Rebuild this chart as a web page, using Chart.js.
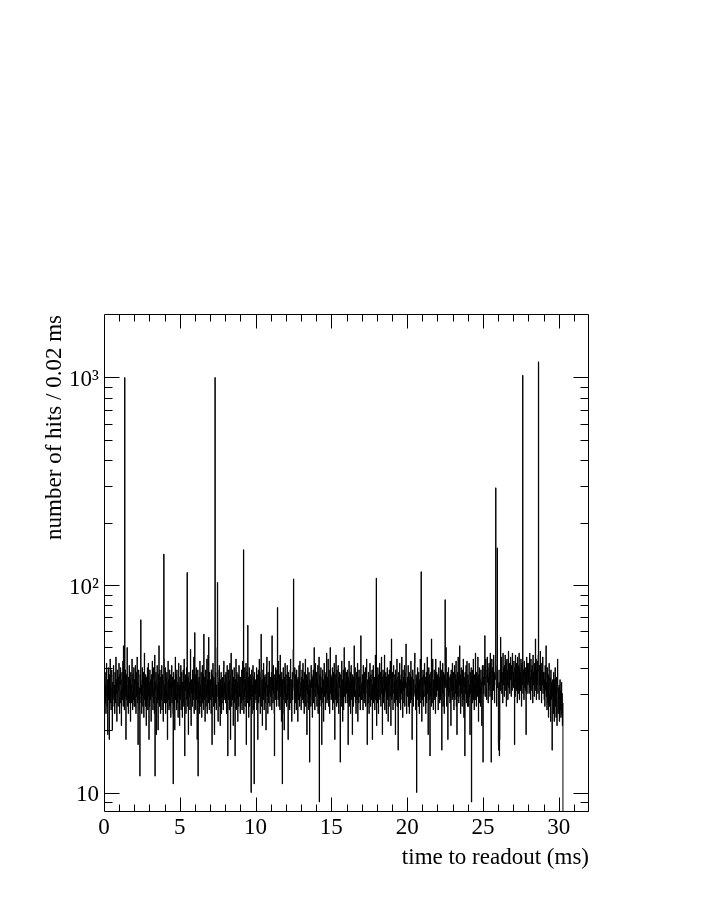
<!DOCTYPE html>
<html>
<head>
<meta charset="utf-8">
<script src="https://cdn.jsdelivr.net/npm/chart.js@4.4.1/dist/chart.umd.min.js"></script>
<style>
  html, body { margin: 0; padding: 0; background: #ffffff; }
  canvas { display: block; }
</style>
</head>
<body>
<canvas id="c" width="706" height="913"></canvas>
<script>
// ---------------- data ----------------
const binWidth = 0.02; // ms per bin
const xTitle = 'time to readout (ms)';
const yTitle = 'number of hits / 0.02 ms';
const xTickValues = [0, 5, 10, 15, 20, 25, 30];
const yTickValues = [10, 100, 1000];
const yTickLabels = ['10', '10²', '10³'];

// hits per 0.02 ms bin (5 ms per array, 50 bins per line)
const counts_00_05ms = [
  50,19,31,38,27,33,24,36,42,29, 26,35,19,31,40,28,33,18,37,30, 44,27,32,25,36,39,30,20,34,28, 37,41,29,26,33,24,38,31,27,45, 30,35,22,28,39,33,26,36,31,42,
  29,24,37,33,40,27,31,21,35,38, 28,32,43,26,51,30,36,25,34,29, 39,31,18,37,28,34,50,30,26,33, 24,36,32,41,27,29,35,22,38,31, 33,27,44,30,25,37,32,28,40,26,
  35,30,26,41,33,24,38,29,31,45, 27,34,17,36,39,28,32,25,12,37, 30,43,27,33,24,35,40,29,26,32, 38,23,31,47,28,34,26,37,30,21, 36,32,28,40,25,33,42,29,18,34,
  26,39,31,28,35,22,37,33,29,43, 30,25,36,40,27,32,24,46,12,34, 31,38,19,29,35,41,27,33,20,37, 28,51,34,26,39,30,24,36,32,28, 41,25,33,37,29,22,35,31,44,27,
  33,29,40,24,36,31,27,38,34,18, 30,43,28,35,25,32,39,26,37,31, 23,34,29,41,27,36,32,24,11,38, 31,26,35,20,33,45,28,37,30,25, 39,32,27,34,23,36,42,29,33,21
];
const counts_05_10ms = [
  36,28,33,41,25,31,38,30,23,34, 27,39,32,26,44,29,15,35,31,37, 24,33,40,28,48,30,26,36,19,32, 38,29,34,25,31,49,27,21,35,30, 33,26,39,31,28,36,45,24,32,59,
  30,37,25,33,40,28,35,18,31,39, 12,34,27,36,31,24,43,29,33,26, 38,30,23,35,41,27,32,37,25,58, 31,28,36,22,34,39,26,33,29,44, 24,35,30,46,27,56,32,25,38,31,
  28,35,31,24,39,33,17,37,29,42, 32,26,36,30,19,34,40,27,38,31, 25,33,29,50,30,36,22,34,28,39, 41,26,31,21,35,30,38,24,33,27, 36,29,32,25,40,43,28,34,30,37,
  33,27,38,30,24,36,41,29,15,34, 28,39,31,25,35,42,30,18,37,47, 32,26,34,39,28,31,21,36,29,40, 27,33,15,35,30,44,25,32,38,28, 34,22,37,30,26,41,33,29,36,24,
  31,36,27,34,39,25,30,43,28,33, 37,24,32,29,40,26,35,31,42,17, 34,38,27,31,64,29,36,23,33,40, 26,31,37,28,35,10,30,39,24,33, 29,41,32,25,36,11,38,27,34,30
];
const counts_10_15ms = [
  35,28,32,40,25,37,30,18,34,39, 27,33,44,29,36,24,31,38,58,30, 26,35,21,33,39,28,42,31,25,36, 30,37,27,34,20,32,41,45,29,33, 24,38,31,27,35,43,30,26,36,32,
  29,34,38,25,57,31,36,27,41,30, 33,24,15,37,32,28,40,30,35,26, 39,31,19,34,28,43,33,26,37,30, 25,46,32,29,36,22,38,31,11,35, 28,40,33,24,20,36,30,42,27,34,
  37,30,26,34,41,28,33,18,38,31, 29,36,25,32,39,44,27,35,30,22, 34,38,28,31,49,26,36,32,24,40, 30,27,37,33,25,39,29,35,31,22, 36,28,33,41,30,26,43,34,29,32,
  25,36,31,39,28,33,42,27,35,30, 24,38,32,29,44,26,34,37,31,19, 36,30,40,27,33,25,38,31,14,35, 29,34,26,41,32,37,28,23,36,31, 39,27,33,50,30,25,35,42,29,34,
  32,38,26,35,30,41,24,33,29,45, 9,31,37,28,34,40,26,32,17,36, 30,39,27,35,22,33,42,29,31,37, 25,34,38,30,47,27,32,36,28,44, 33,26,39,31,24,35,50,30,37,28
];
const counts_15_20ms = [
  36,29,33,40,25,31,38,27,34,42, 30,18,37,32,28,46,35,26,39,31, 27,34,41,30,24,36,32,38,29,14, 33,37,26,31,43,28,35,22,30,39, 25,36,50,29,33,40,27,34,31,38,
  30,35,27,39,32,17,36,29,43,26, 34,31,38,24,33,41,28,35,30,19, 37,32,26,36,30,51,29,33,40,27, 31,24,35,38,28,34,42,22,36,30, 27,39,33,29,36,25,31,57,34,28,
  33,28,37,31,25,41,30,35,27,38, 29,34,40,26,32,36,44,30,17,35, 31,27,38,33,24,36,29,42,30,26, 37,32,28,35,39,18,33,30,41,27, 34,29,36,25,31,46,28,38,32,21,
  36,31,27,40,33,24,37,29,35,42, 28,33,38,26,31,45,30,36,19,34, 39,27,32,37,29,46,25,35,31,38, 30,24,36,33,40,28,34,22,37,31, 26,39,33,29,43,35,21,31,55,28,
  33,38,29,25,36,41,30,34,27,37, 31,19,39,33,28,35,44,26,32,36, 16,34,38,27,31,42,29,35,25,33, 37,30,45,28,34,23,39,31,36,27, 30,41,26,35,32,38,52,29,24,34
];
const counts_20_25ms = [
  29,36,33,41,26,31,38,24,35,30, 37,27,43,32,28,36,18,34,39,31, 26,35,30,38,42,47,29,33,25,37, 32,10,36,28,40,30,34,26,38,31, 24,35,29,44,33,27,37,31,22,36,
  35,28,39,31,26,37,33,42,29,30, 36,24,34,38,27,32,45,30,35,19, 33,40,28,31,37,15,34,29,38,26, 55,32,27,36,44,30,25,35,31,39, 28,34,37,24,44,33,29,38,31,36,
  31,37,25,34,40,29,36,27,33,43, 28,35,39,31,16,36,30,42,26,34, 38,30,24,37,33,28,41,32,50,29, 26,35,31,38,18,34,40,29,36,32, 30,27,37,33,21,39,31,35,28,42,
  34,29,38,31,25,36,41,28,33,37, 30,43,26,35,19,32,38,29,45,31, 27,36,33,51,29,37,24,34,40,30, 35,26,39,31,28,44,33,23,36,32, 15,38,30,34,41,27,35,43,31,26,
  37,31,26,35,42,29,33,19,38,30, 34,40,9,32,36,27,39,31,44,28, 33,25,37,30,35,47,28,34,26,38, 31,36,29,45,33,22,37,30,40,27, 35,32,26,39,30,34,21,36,41,33
];
const counts_25_30ms = [
  14,36,30,41,33,38,57,29,35,44, 39,32,28,37,45,34,40,27,36,31, 42,33,38,29,47,35,31,14,39,44, 33,28,40,36,31,46,34,38,27,37, 35,43,30,38,33,26,41,36,32,39,
  33,17,16,34,15,18,39,31,56,37, 34,45,30,38,35,27,47,33,40,36, 29,41,35,46,37,31,43,26,36,44, 33,39,28,37,48,32,36,42,30,38, 35,45,38,29,41,34,31,47,37,33,
  38,32,43,35,17,40,29,46,34,37, 42,31,36,27,45,35,30,41,33,47, 28,40,34,38,31,44,36,26,42,33, 37,47,30,39,34,28,43,36,32,40, 31,38,19,35,45,30,37,42,33,39,
  34,42,30,38,47,32,36,28,44,35, 39,31,41,36,27,46,33,38,34,29, 42,36,31,55,34,44,28,39,33,43, 36,30,46,34,38,28,41,33,37,48, 31,39,35,27,42,36,33,45,30,38,
  32,38,28,35,26,41,31,36,51,29, 34,25,40,31,27,37,23,33,42,30, 26,36,32,22,39,28,34,30,16,35, 29,33,24,38,30,22,35,28,40,26, 32,23,36,29,21,33,44,30,24,32
];
const counts_30_end = [28,33,22,30,35,25,31,23,29,34,24,30,21,27];

// isolated high bins (time of bin start in ms, hits)
const spikeTimes  = [1.36, 2.42, 3.94, 5.48, 7.32, 7.48, 9.20, 11.44, 12.50, 17.96, 20.92, 22.50, 25.84, 25.94, 27.62, 28.66];
const spikeCounts = [1000,   68,  141,  115, 1000,  103,  148,    78,   107,   108,   116,    85,   294,   151,  1025,  1190];

const emptyBinCount = 0; // bins after the last filled one are empty
const xRange = [0, 32];
const yRange = [8.06, 2000];

// ---------------- build histogram outline ----------------
const counts = [counts_00_05ms, counts_05_10ms, counts_10_15ms, counts_15_20ms,
                counts_20_25ms, counts_25_30ms, counts_30_end].flat();
spikeTimes.forEach((t, i) => { counts[Math.round(t / binWidth)] = spikeCounts[i]; });
const points = counts.map((c, i) => ({ x: i * binWidth, y: c }));
points.push({ x: counts.length * binWidth, y: emptyBinCount });
points.push({ x: xRange[1], y: emptyBinCount });

const FONT = 'Liberation Serif, Times New Roman, serif';

// ROOT-style frame with inward ticks on all four sides
const frameTicks = {
  id: 'frameTicks',
  afterDatasetsDraw(chart) {
    const { ctx, chartArea: a, scales: { x, y } } = chart;
    const L = Math.floor(a.left) + 0.5, R = Math.floor(a.right) - 0.5;
    const T = Math.floor(a.top) - 0.5, B = Math.floor(a.bottom) - 0.5;
    ctx.save();
    ctx.strokeStyle = '#000';
    ctx.lineWidth = 1;
    ctx.beginPath();
    ctx.rect(L, T, R - L, B - T);
    for (let v = xRange[0] + 1; v < xRange[1]; v += 1) {
      const px = Math.round(x.getPixelForValue(v)) + 0.5;
      const len = (v % 5 === 0) ? 14 : 7;
      ctx.moveTo(px, B); ctx.lineTo(px, B - len);
      ctx.moveTo(px, T); ctx.lineTo(px, T + len);
    }
    for (let d = 1; d <= 1000; d *= 10) {
      for (let k = 1; k <= 9; k++) {
        const v = k * d;
        if (v <= yRange[0] || v >= yRange[1]) continue;
        const py = Math.round(y.getPixelForValue(v)) + 0.5;
        const len = (k === 1) ? 15 : 8;
        ctx.moveTo(L, py); ctx.lineTo(L + len, py);
        ctx.moveTo(R, py); ctx.lineTo(R - len, py);
      }
    }
    ctx.stroke();
    ctx.restore();
  }
};

new Chart(document.getElementById('c'), {
  type: 'line',
  data: {
    datasets: [{
      data: points,
      parsing: false,
      stepped: true,
      borderColor: '#000000',
      borderWidth: 1,
      pointRadius: 0,
      fill: false,
      tension: 0
    }]
  },
  options: {
    responsive: false,
    animation: false,
    devicePixelRatio: 1,
    events: [],
    layout: { padding: { left: 0, top: 315, right: 117, bottom: 0 } },
    plugins: { legend: { display: false }, tooltip: { enabled: false } },
    scales: {
      x: {
        type: 'linear',
        min: xRange[0], max: xRange[1],
        grid: { display: false, drawTicks: false },
        border: { display: false },
        afterBuildTicks: (s) => { s.ticks = xTickValues.map(v => ({ value: v })); },
        afterFit: (s) => { s.height = 101; },
        ticks: {
          autoSkip: false, maxRotation: 0, padding: 2,
          color: '#000', font: { family: FONT, size: 23 },
          callback: (v) => String(v)
        },
        title: {
          display: true, text: xTitle, align: 'end', color: '#000',
          font: { family: FONT, size: 23 },
          padding: { top: 0, bottom: 41 }
        }
      },
      y: {
        type: 'logarithmic',
        min: yRange[0], max: yRange[1],
        grid: { display: false, drawTicks: false },
        border: { display: false },
        afterBuildTicks: (s) => { s.ticks = yTickValues.map(v => ({ value: v })); },
        afterFit: (s) => { s.width = 104; },
        ticks: {
          autoSkip: false, padding: 5, labelOffset: 2.5,
          color: '#000', font: { family: FONT, size: 23 },
          callback: (v) => yTickLabels[yTickValues.indexOf(v)]
        },
        title: {
          display: true, text: yTitle, align: 'end', color: '#000',
          font: { family: FONT, size: 23 },
          padding: { top: 41.5, bottom: 0 }
        }
      }
    }
  },
  plugins: [frameTicks]
});
</script>
</body>
</html>
